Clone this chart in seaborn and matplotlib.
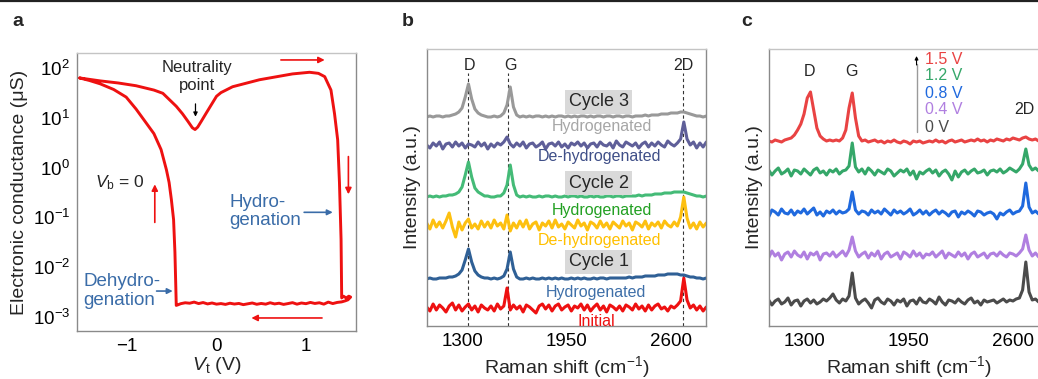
import numpy as np
import pandas as pd
import matplotlib
matplotlib.use("Agg")
import matplotlib.pyplot as plt
from matplotlib.lines import Line2D
from matplotlib.ticker import MultipleLocator, FixedLocator, LogLocator, NullFormatter
import seaborn as sns

# ---------------- panel a: conductance hysteresis loop ----------------
# forward sweep (upper branch, through the neutrality point, then the drop)
vt_up = [-1.53, -1.30, -1.10, -0.90, -0.70, -0.60, -0.45, -0.38, -0.32, -0.27,
         -0.24, -0.21, -0.17, -0.115, -0.06, 0.00, 0.05, 0.18, 0.48, 0.85,
         1.04, 1.14, 1.21, 1.28, 1.32, 1.355, 1.375, 1.393, 1.40]
g_up = [63, 55, 50, 44, 36, 31, 17, 12, 8.5, 6.3,
        5.8, 6.5, 8.5, 12.4, 18, 27, 32, 42, 58, 76,
        82, 78, 67, 36, 12, 3.6, 0.5, 0.036, 0.0024]
# hydrogenated state: low plateau, swept back to the left
vt_low = [1.42, 1.45, 1.48, 1.50, 1.47, 1.44, 1.40,
          1.35, 1.30, 1.25, 1.20, 1.15, 1.10, 1.05, 1.00, 0.95, 0.90,
          0.85, 0.80, 0.75, 0.70, 0.65, 0.60, 0.55, 0.50, 0.45, 0.40,
          0.35, 0.30, 0.25, 0.20, 0.15, 0.10, 0.05, 0.00, -0.05, -0.10,
          -0.15, -0.20, -0.25, -0.30, -0.35, -0.40, -0.43, -0.45]
g_low = [2.6e-3, 2.4e-3, 2.6e-3, 2.5e-3, 2.2e-3, 2.1e-3, 2.0e-3,
         1.95e-3, 1.85e-3, 1.98e-3, 1.80e-3, 1.92e-3, 1.86e-3, 1.95e-3, 1.84e-3, 1.90e-3, 1.80e-3,
         1.93e-3, 1.85e-3, 1.78e-3, 1.88e-3, 1.82e-3, 1.92e-3, 1.80e-3, 1.86e-3, 1.79e-3, 1.90e-3,
         1.83e-3, 1.76e-3, 1.86e-3, 1.81e-3, 1.88e-3, 1.78e-3, 1.85e-3, 1.80e-3, 1.90e-3, 1.82e-3,
         1.94e-3, 1.85e-3, 1.98e-3, 1.88e-3, 1.92e-3, 1.84e-3, 1.75e-3, 1.70e-3]
# dehydrogenation: recovery back to the starting point
vt_back = [-0.455, -0.465, -0.48, -0.505, -0.53, -0.56, -0.62, -0.70, -0.785,
           -0.90, -1.01, -1.15, -1.30, -1.42, -1.53]
g_back = [0.004, 0.02, 0.09, 0.23, 0.5, 0.9, 2.3, 4.8, 7.8,
          15, 26, 37, 48, 56, 63]

# ---------------- Raman spectra (panels b and c) ----------------
raman_shift = list(range(1080, 2821, 20))

# panel b, stacked from bottom to top
b_initial = [1, -3, 4, -2, 3, 0, -4, 2, 5, -2,
             3, -3, 1, 4, -2, 2, -4, 3, 0, -2,
             2, -3, 4, -1, 2, 20, -2, 3, -1, 2,
             -4, 3, 1, -2, -5, 2, 4, -1, 3, -3,
             2, 4, -2, 1, 3, -3, 2, 0, 4, -2,
             3, -3, 1, 4, -2, 2, -4, 3, 1, -2,
             2, -3, 3, 1, -2, 4, -1, 2, -3, 3,
             -2, 2, 4, -1, 1, -3, 2, 0, 3, 7,
             30, 8, 0, 3, -2, 2, -3, 1]
b_cycle1_hyd = [0, 1, 0, 0, 1, 1, 1, 2, 2, 3,
                5, 9, 19, 30, 17, 8, 4, 2, 1, 1,
                0, 1, 0, 1, 3, 10, 27, 10, 2, 0,
                0, 1, 0, 1, 0, 0, 1, 0, 1, 0,
                1, 0, 1, 0, 0, 1, 0, 1, 0, 1,
                0, 0, 1, 0, 1, 1, 0, 1, 1, 1,
                1, 1, 1, 2, 1, 2, 2, 2, 3, 3,
                3, 3, 4, 4, 4, 5, 5, 5, 5, 4,
                4, 3, 2, 2, 1, 1, 0, 1]
b_cycle2_dehyd = [2, -4, 5, -2, 3, -3, 4, 12, -2, -12,
                  3, -5, 2, 6, -3, 1, -4, 4, -2, 3,
                  -3, 5, -1, 2, -4, 10, -6, 2, -3, 4,
                  -2, 5, -4, 1, 3, -5, 2, -1, 4, -3,
                  5, -2, 1, -4, 3, 0, -3, 5, -1, 2,
                  -5, 3, 1, -3, 4, -2, 2, -4, 3, 0,
                  -3, 4, -1, 2, -5, 3, 1, -2, 4, -4,
                  2, -1, 3, -3, 4, 0, -2, 3, -1, 8,
                  28, 7, -3, 2, -4, 3, -2, 2]
b_cycle2_hyd = [0, 1, 0, 1, 0, 1, 1, 2, 2, 3,
                5, 10, 22, 35, 20, 9, 5, 3, 1, 1,
                0, 0, 1, 1, 4, 12, 32, 12, 2, 0,
                1, 0, 1, 0, 0, 1, 0, 1, 1, 0,
                1, 0, 0, 1, 0, 1, 1, 0, 1, 0,
                0, 1, 0, 1, 0, 0, 1, 1, 0, 1,
                1, 0, 1, 1, 1, 1, 2, 1, 2, 2,
                2, 3, 3, 3, 4, 4, 4, 5, 5, 5,
                5, 4, 3, 2, 1, 1, 0, 1]
b_cycle3_dehyd = [0, -3, 2, -1, 3, -4, 1, 2, -2, 3,
                  -1, 2, -3, 1, 0, -2, 3, -1, 2, -4,
                  1, -2, 2, 0, 3, 8, 1, -2, 2, -1,
                  3, -3, 1, 2, -2, 0, 3, -4, 1, 2,
                  -1, 3, -2, 1, -3, 2, 0, 3, -1, 2,
                  -3, 1, 2, -2, 3, 0, -1, 2, -3, 4,
                  0, -2, 3, 1, -1, 2, -3, 1, 3, -2,
                  2, -1, 3, 0, -2, 4, 1, -1, 2, 6,
                  23, 6, 0, 3, -3, 2, -2, 3]
b_cycle3_hyd = [0, 1, 0, 1, 1, 0, 1, 1, 2, 3,
                5, 9, 20, 33, 18, 8, 4, 2, 1, 0,
                0, 1, 0, 1, 4, 12, 30, 10, 2, 0,
                1, 0, 1, 0, 1, 1, 0, 1, 0, 1,
                0, 1, 1, 0, 1, 0, 1, 0, 1, 1,
                0, 1, 0, 1, 1, 0, 1, 1, 0, 1,
                1, 0, 1, 1, 0, 1, 1, 1, 2, 1,
                2, 2, 2, 3, 3, 3, 4, 4, 4, 5,
                5, 4, 3, 2, 1, 1, 0, 1]
b_names = ["Initial", "Cycle 1 hyd", "Cycle 2 dehyd", "Cycle 2 hyd",
           "Cycle 3 dehyd", "Cycle 3 hyd"]
b_spectra = [b_initial, b_cycle1_hyd, b_cycle2_dehyd, b_cycle2_hyd,
             b_cycle3_dehyd, b_cycle3_hyd]
b_offsets = [18, 47, 101, 129, 181, 209]
b_colors = ["#ee1111", "#2f6096", "#fdc010", "#44bb77", "#5f5f99", "#999999"]
band_names = ["D", "G", "2D"]
band_positions = [1340, 1585, 2675]

# panel c, gate voltage series from bottom to top
c_0v = [2, -3, 1, 3, -2, 0, 4, -3, 1, 2,
        -4, 1, 3, -1, 2, -2, 0, 3, 1, 4,
        8, 2, -1, 3, 1, 6, 29, 4, -2, 1,
        3, -1, -6, 2, 4, 0, -2, 3, 1, -3,
        2, 0, 3, -4, 1, 2, -2, 4, 0, -1,
        3, 1, -2, 5, 0, -3, 2, 1, -1, 3,
        0, -2, 2, 4, -1, 1, -3, 2, 0, 1,
        2, -1, 1, 3, 0, 2, 1, 3, 4, 12,
        40, 10, 2, 3, 0, 2, 1, 2]
c_04v = [-3, 4, -1, 2, -5, 1, 3, -2, 4, 0,
         -2, 3, -4, 2, 0, 3, -5, 1, 2, -1,
         3, -2, 1, 4, -1, 5, 18, 4, -2, 1,
         3, -3, 2, -1, 4, -4, 1, 3, -2, 0,
         2, -4, 3, 1, -2, 4, -1, 2, -3, 1,
         0, 3, -2, 1, 4, -3, 2, 0, -2, 3,
         -1, 2, -4, 1, 3, -2, 0, 2, -3, 1,
         2, -1, 3, 0, -2, 2, 1, -1, 2, 6,
         20, 5, -1, 2, -2, 3, 0, 1]
c_08v = [-4, 3, 1, -2, 4, 0, -1, 3, -2, 2,
         0, 4, -1, 2, 5, -2, 1, -3, 2, 0,
         3, -1, 2, 0, 1, 4, 21, 3, -1, 2,
         1, -2, 3, 0, 2, -1, 4, 1, -2, 3,
         0, 2, -1, 1, 4, -2, 0, 3, -1, 2,
         -2, 1, 3, -1, 2, 0, -3, 1, 2, -4,
         1, -1, 2, 0, -3, 2, 1, -2, 0, 1,
         -1, -6, 0, -2, 1, 3, -1, 1, 2, 7,
         30, 6, 0, 2, -1, 1, -2, 1]
c_12v = [2, -3, 1, 4, -2, 0, 3, -4, 2, 1,
         -2, 3, 0, -3, 2, 4, -1, 1, -3, 2,
         0, 3, -2, 1, 2, 6, 29, 5, 0, 3,
         -2, 4, 1, -3, 2, 0, -2, 3, 1, -4,
         -1, 2, 0, 3, -3, 1, -7, 0, -2, 1,
         3, -1, 2, -4, 0, 2, -2, -8, 1, -5,
         0, 2, -2, 1, 3, -1, 0, 2, -3, 1,
         2, 0, 3, -1, 1, 4, 2, 0, 3, 8,
         23, 7, 2, 4, 1, 3, 0, 2]
c_15v = [1, 0, 2, 1, 0, 2, 3, 4, 7, 12,
         18, 28, 44, 50, 32, 14, 6, 3, 1, 2,
         1, 2, 1, 4, 12, 34, 49, 24, 6, 1,
         2, 0, 1, 2, 0, 1, -1, 1, 0, 2,
         0, -1, 1, 0, -2, 1, 0, 1, -1, 0,
         1, 0, 2, 0, 1, -1, 1, 2, 0, 1,
         2, 0, 1, 2, 1, 3, 1, 2, 0, 2,
         1, 3, 2, 1, 3, 2, 4, 3, 2, 4,
         5, 3, 2, 3, 1, 2, 0, 1]
c_labels = ["0 V", "0.4 V", "0.8 V", "1.2 V", "1.5 V"]
c_spectra = [c_0v, c_04v, c_08v, c_12v, c_15v]
c_offsets = [24, 71, 113, 154, 184]
c_colors = ["#4b4b4b", "#b07fe0", "#1f69de", "#35a769", "#e94343"]

# ---------------- style ----------------
sns.set_theme(style="white")
plt.rcParams["font.family"] = ["Liberation Sans", "DejaVu Sans"]
plt.rcParams["mathtext.fontset"] = "custom"
plt.rcParams["mathtext.rm"] = "Liberation Sans"
plt.rcParams["mathtext.it"] = "Liberation Sans:italic"
plt.rcParams["axes.unicode_minus"] = True

W, H = 1038, 379
fig = plt.figure(figsize=(W / 100, H / 100), dpi=100)


def frame(ax):
    for side in ("left", "bottom", "right"):
        ax.spines[side].set_color("#8a8a8a")
        ax.spines[side].set_linewidth(1.0)
    ax.spines["top"].set_color("#c4c4c4")
    ax.spines["top"].set_linewidth(1.0)
    ax.tick_params(which="both", direction="in", color="#7a7a7a",
                   labelsize=13.5, labelcolor="black", pad=5)
    ax.tick_params(which="major", length=4, width=0.9)
    ax.tick_params(which="minor", length=2.5, width=0.8)


def axes_px(x0, x1, y0, y1):
    return fig.add_axes([x0 / W, 1 - y1 / H, (x1 - x0) / W, (y1 - y0) / H])


# ---------------- panel a ----------------
axa = axes_px(77, 356, 53, 331)
loop = pd.DataFrame({"Vt": vt_up + vt_low + vt_back,
                     "G": g_up + g_low + g_back})
sns.lineplot(data=loop, x="Vt", y="G", sort=False, estimator=None,
             color="#ee1111", lw=2.1, ax=axa)
axa.set_yscale("log")
axa.set_xlim(-1.56, 1.56)
axa.set_ylim(5.2e-4, 2.0e2)
axa.xaxis.set_major_locator(FixedLocator([-1, 0, 1]))
axa.xaxis.set_minor_locator(MultipleLocator(0.5))
axa.yaxis.set_major_locator(LogLocator(base=10, numticks=12))
axa.yaxis.set_minor_locator(LogLocator(base=10, subs=np.arange(2, 10), numticks=12))
axa.yaxis.set_minor_formatter(NullFormatter())
frame(axa)
axa.set_xlabel(r"$V_\mathrm{t}$ (V)", fontsize=14, labelpad=0)
axa.set_ylabel("Electronic conductance (\u03bcS)", fontsize=14, labelpad=3)

red = "#ee1111"
blue_txt = "#3a6ca8"
arrow_red = dict(arrowstyle="-|>", color=red, lw=1.2, mutation_scale=9,
                 shrinkA=0, shrinkB=0)
arrow_blue = dict(arrowstyle="-|>", color=blue_txt, lw=1.2, mutation_scale=8,
                  shrinkA=0, shrinkB=0)
axa.annotate("", xy=(1.21, 145), xytext=(0.72, 145), arrowprops=arrow_red)
axa.annotate("", xy=(1.475, 0.29), xytext=(1.475, 1.66), arrowprops=arrow_red)
axa.annotate("", xy=(0.39, 9.5e-4), xytext=(1.18, 9.5e-4), arrowprops=arrow_red)
axa.annotate("", xy=(-0.69, 0.46), xytext=(-0.69, 0.079), arrowprops=arrow_red)
axa.annotate("", xy=(1.30, 0.126), xytext=(0.98, 0.126), arrowprops=arrow_blue)
axa.annotate("", xy=(-0.49, 3.3e-3), xytext=(-0.67, 3.3e-3), arrowprops=arrow_blue)
axa.annotate("", xy=(-0.235, 10.5), xytext=(-0.235, 19),
             arrowprops=dict(arrowstyle="-|>", color="black", lw=0.9,
                             mutation_scale=6, shrinkA=0, shrinkB=0))
axa.text(-0.22, 66, "Neutrality\npoint", ha="center", va="center",
         fontsize=12, linespacing=1.25)
axa.text(0.145, 0.13, "Hydro-\ngenation", ha="left", va="center",
         fontsize=13.5, color=blue_txt, linespacing=1.1)
axa.text(-1.49, 3.3e-3, "Dehydro-\ngenation", ha="left", va="center",
         fontsize=13.5, color=blue_txt, linespacing=1.1)
axa.text(-1.36, 0.5, r"$V_\mathrm{b}$ = 0", ha="left", va="center", fontsize=12.5)

# ---------------- panel b ----------------
axb = axes_px(427, 706, 49, 326)
rows = []
for name, spec, off in zip(b_names, b_spectra, b_offsets):
    for x, v in zip(raman_shift, spec):
        rows.append((name, x, v + off))
dfb = pd.DataFrame(rows, columns=["trace", "shift", "intensity"])
sns.lineplot(data=dfb, x="shift", y="intensity", hue="trace",
             palette=dict(zip(b_names, b_colors)), estimator=None, sort=False,
             lw=2.2, legend=False, ax=axb)
for name, pos in zip(band_names, band_positions):
    axb.plot([pos, pos], [0, 253], ls=(0, (3, 2.5)), lw=0.8, color="#333333", zorder=1)
    axb.text(pos + (15 if name == "G" else 5), 260, name, ha="center", va="center",
             fontsize=11.5)
axb.set_xlim(1082, 2818)
axb.set_ylim(0, 277)
axb.set_yticks([])
axb.xaxis.set_major_locator(FixedLocator([1300, 1950, 2600]))
axb.xaxis.set_minor_locator(FixedLocator([1625, 2275]))
frame(axb)
axb.set_xlabel("Raman shift (cm$^{-1}$)", fontsize=14, labelpad=3)
axb.set_ylabel("Intensity (a.u.)", fontsize=14, labelpad=4)

box = dict(boxstyle="square,pad=0.2", fc="#d9d9d9", ec="none")
for label, y in [("Cycle 3", 224), ("Cycle 2", 143), ("Cycle 1", 64)]:
    axb.text(2150, y, label, ha="center", va="center", fontsize=13, bbox=box)
state_labels = [("Hydrogenated", 2171, 200, "#a6a6a6"),
                ("De-hydrogenated", 2158, 169, "#3f4f88"),
                ("Hydrogenated", 2171, 115, "#22a022"),
                ("De-hydrogenated", 2158, 85, "#ffc000"),
                ("Hydrogenated", 2133, 34, "#3e6fa8"),
                ("Initial", 2133, 5, "#ee1111")]
for txt, x, y, col in state_labels:
    axb.text(x, y, txt, ha="center", va="center", fontsize=11.5, color=col)

# ---------------- panel c ----------------
axc = axes_px(769, 1048, 49, 326)
rows = []
for name, spec, off in zip(c_labels, c_spectra, c_offsets):
    for x, v in zip(raman_shift, spec):
        rows.append((name, x, v + off))
dfc = pd.DataFrame(rows, columns=["trace", "shift", "intensity"])
sns.lineplot(data=dfc, x="shift", y="intensity", hue="trace",
             palette=dict(zip(c_labels, c_colors)), estimator=None, sort=False,
             lw=2.2, legend=False, ax=axc)
axc.set_xlim(1082, 2818)
axc.set_ylim(0, 277)
axc.set_yticks([])
axc.xaxis.set_major_locator(FixedLocator([1300, 1950, 2600]))
axc.xaxis.set_minor_locator(FixedLocator([1625, 2275]))
frame(axc)
axc.set_xlabel("Raman shift (cm$^{-1}$)", fontsize=14, labelpad=3)
axc.set_ylabel("Intensity (a.u.)", fontsize=14, labelpad=4)
axc.text(1331, 254, "D", ha="center", va="center", fontsize=11.5)
axc.text(1597, 254, "G", ha="center", va="center", fontsize=11.5)
axc.text(2668, 216, "2D", ha="center", va="center", fontsize=11.5)
axc.plot([2000, 2000], [194, 262], color="#9a9a9a", lw=1.0)
axc.annotate("", xy=(2000, 270), xytext=(2000, 261),
             arrowprops=dict(arrowstyle="-|>", color="black", lw=0.8,
                             mutation_scale=5, shrinkA=0, shrinkB=0))
for (label, col), y in zip(zip(c_labels[::-1], c_colors[::-1]), [267, 250, 233, 216, 198]):
    axc.text(2055, y, label, ha="left", va="center", fontsize=11.5, color=col)

# ---------------- panel letters and top rule ----------------
for letter, x in [("a", 18), ("b", 408), ("c", 747)]:
    fig.text(x / W, 1 - 21 / H, letter, ha="center", va="center",
             fontsize=14, fontweight="bold")
fig.add_artist(Line2D([0, 1], [1 - 1 / H, 1 - 1 / H], transform=fig.transFigure,
                      color="#222222", lw=1.6))

fig.savefig("out.png", dpi=100)
